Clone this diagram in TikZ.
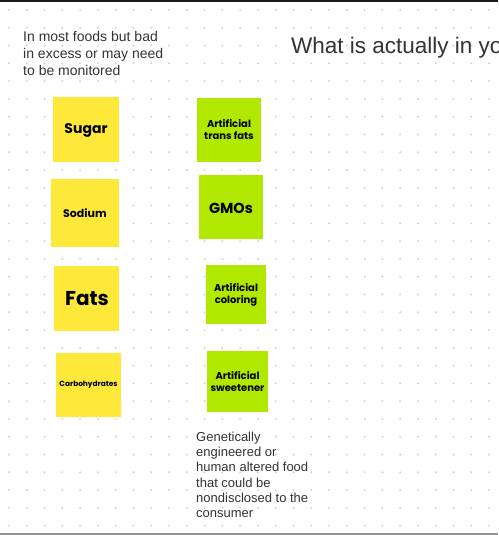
\documentclass[tikz,border=0pt]{standalone}
\usepackage{fontspec}
\setmainfont{Liberation Sans}
\newfontfamily\stickyfont{Poppins}
\definecolor{stickyyellow}{HTML}{FEE93A}
\definecolor{stickygreen}{HTML}{B1E800}
\definecolor{dotgray}{HTML}{D2D2D2}
\definecolor{textgray}{HTML}{333333}
\tikzset{
  sticky/.style={inner sep=0pt, font=\stickyfont\bfseries, align=center, text=black},
  yellownote/.style={fill=stickyyellow},
  greennote/.style={fill=stickygreen},
  plaintext/.style={inner sep=0pt, text=textgray, align=left},
}
\begin{document}
\begin{tikzpicture}[x=1pt,y=-1pt]
\useasboundingbox (0,0) rectangle (498,535);
\clip (0,0) rectangle (498,535);
\fill[white] (0,0) rectangle (498,535);
% dot grid
\foreach \i in {0,...,27}{
  \foreach \j in {0,...,29}{
    \fill[dotgray] (9+\i*17.78, 10+\j*17.78) circle (1.1);
  }
}
% borders
\fill[black!90] (0,0) rectangle (498,2);
\fill[gray!85] (0,532.5) rectangle (498,535);
% yellow notes
\fill[yellownote] (53,97) rectangle (119,162);
\node[sticky, font=\stickyfont\bfseries\fontsize{14}{16}\selectfont] (sugar) at (86,130) {Sugar};
\fill[yellownote] (51,179) rectangle (119,247);
\node[sticky, font=\stickyfont\bfseries\fontsize{11}{13}\selectfont] (sodium) at (85,213) {Sodium};
\fill[yellownote] (54,266) rectangle (119,331);
\node[sticky, font=\stickyfont\bfseries\fontsize{20}{24}\selectfont] (fats) at (87,299) {Fats};
\fill[yellownote] (56,353) rectangle (121,417);
\node[sticky, font=\stickyfont\bfseries\fontsize{7.4}{9}\selectfont] (carbs) at (88.5,385) {Carbohydrates};
% green notes
\fill[greennote] (197,98) rectangle (261,162);
\node[sticky, font=\stickyfont\bfseries\fontsize{10}{12}\selectfont] (trans) at (229,130) {Artificial\\trans fats};
\fill[greennote] (199,175) rectangle (263,239);
\node[sticky, font=\stickyfont\bfseries\fontsize{14.5}{17}\selectfont] (gmo) at (231,208) {GMOs};
\fill[greennote] (206,265) rectangle (266,324);
\node[sticky, font=\stickyfont\bfseries\fontsize{10}{12}\selectfont] (color) at (236,295) {Artificial\\coloring};
\fill[greennote] (207,351) rectangle (268,412);
\node[sticky, font=\stickyfont\bfseries\fontsize{10}{12}\selectfont] (sweet) at (237.5,382) {Artificial\\sweetener};
% texts
\node[plaintext, anchor=north west, font=\fontsize{14}{17}\selectfont] (monitored) at (23,30.8) {In most foods but bad\\in excess or may need\\to be monitored};
\node[plaintext, anchor=base west, font=\fontsize{22.5}{26}\selectfont] (title) at (291,54) {What is actually in yo};
\node[plaintext, anchor=north west, font=\fontsize{13}{15.3}\selectfont] (gmotext) at (196,431.5) {Genetically\\engineered or\\human altered food\\that could be\\nondisclosed to the\\consumer};
\end{tikzpicture}
\end{document}
